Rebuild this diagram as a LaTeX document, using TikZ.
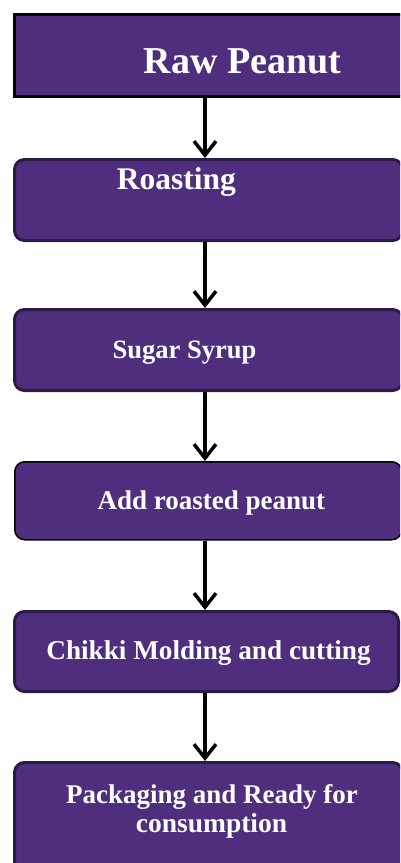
\documentclass[tikz,border=0pt]{standalone}
\usepackage{fontspec}
\setmainfont{Liberation Serif}
\usetikzlibrary{arrows.meta}
\definecolor{boxfill}{HTML}{4F2F7D}
\definecolor{boxedge}{HTML}{2D1B47}
\tikzset{
  stagebox/.style={rectangle, fill=boxfill, draw=boxedge, line width=3pt, rounded corners=10pt, anchor=north west, inner sep=0pt},
  label/.style={text=white, anchor=base, inner sep=0pt, font=\bfseries},
  flowarrow/.style={line width=3.5pt, -{Straight Barb[length=14pt, width=22pt, line width=3.5pt]}}
}
\begin{document}
\begin{tikzpicture}[x=1pt, y=-1pt]
\useasboundingbox (0,0) rectangle (400,863);
\clip (0,0) rectangle (400,863);
% boxes
\node[stagebox, draw=black, line width=2.5pt, rounded corners=0pt, minimum width=397pt, minimum height=82pt] (b1) at (13,13) {};
\node[stagebox, minimum width=388pt, minimum height=81pt] (b2) at (13,158) {};
\node[stagebox, minimum width=388pt, minimum height=81pt] (b3) at (13,308) {};
\node[stagebox, draw=black, line width=1.5pt, minimum width=387pt, minimum height=78pt] (b4) at (14,461) {};
\node[stagebox, minimum width=384pt, minimum height=80pt] (b5) at (13,610) {};
\node[stagebox, minimum width=388pt, minimum height=120pt] (b6) at (13,761) {};
% texts
\node[label, font=\bfseries\fontsize{38}{44}\selectfont] (t1) at (242.5,73) {Raw Peanut};
\node[label, font=\bfseries\fontsize{31.5}{36}\selectfont] (t2) at (176.5,189) {Roasting};
\node[label, font=\bfseries\fontsize{26.5}{30}\selectfont] (t3) at (184.5,358) {Sugar Syrup};
\node[label, font=\bfseries\fontsize{27}{30}\selectfont] (t4) at (211.5,509) {Add roasted peanut};
\node[label, font=\bfseries\fontsize{27.2}{30}\selectfont] (t5) at (208.5,659) {Chikki Molding and cutting};
\node[label, font=\bfseries\fontsize{27}{30}\selectfont] (t6a) at (212,803) {Packaging and Ready for};
\node[label, font=\bfseries\fontsize{27.5}{30}\selectfont] (t6b) at (211.5,832) {consumption};
% arrows
\coordinate (ax) at (205,0);
\draw[flowarrow] (b1.south -| ax) -- (b2.north -| ax);
\draw[flowarrow] (b2.south -| ax) -- (b3.north -| ax);
\draw[flowarrow] (b3.south -| ax) -- (b4.north -| ax);
\draw[flowarrow] (b4.south -| ax) -- (b5.north -| ax);
\draw[flowarrow] (b5.south -| ax) -- (b6.north -| ax);
\end{tikzpicture}
\end{document}
